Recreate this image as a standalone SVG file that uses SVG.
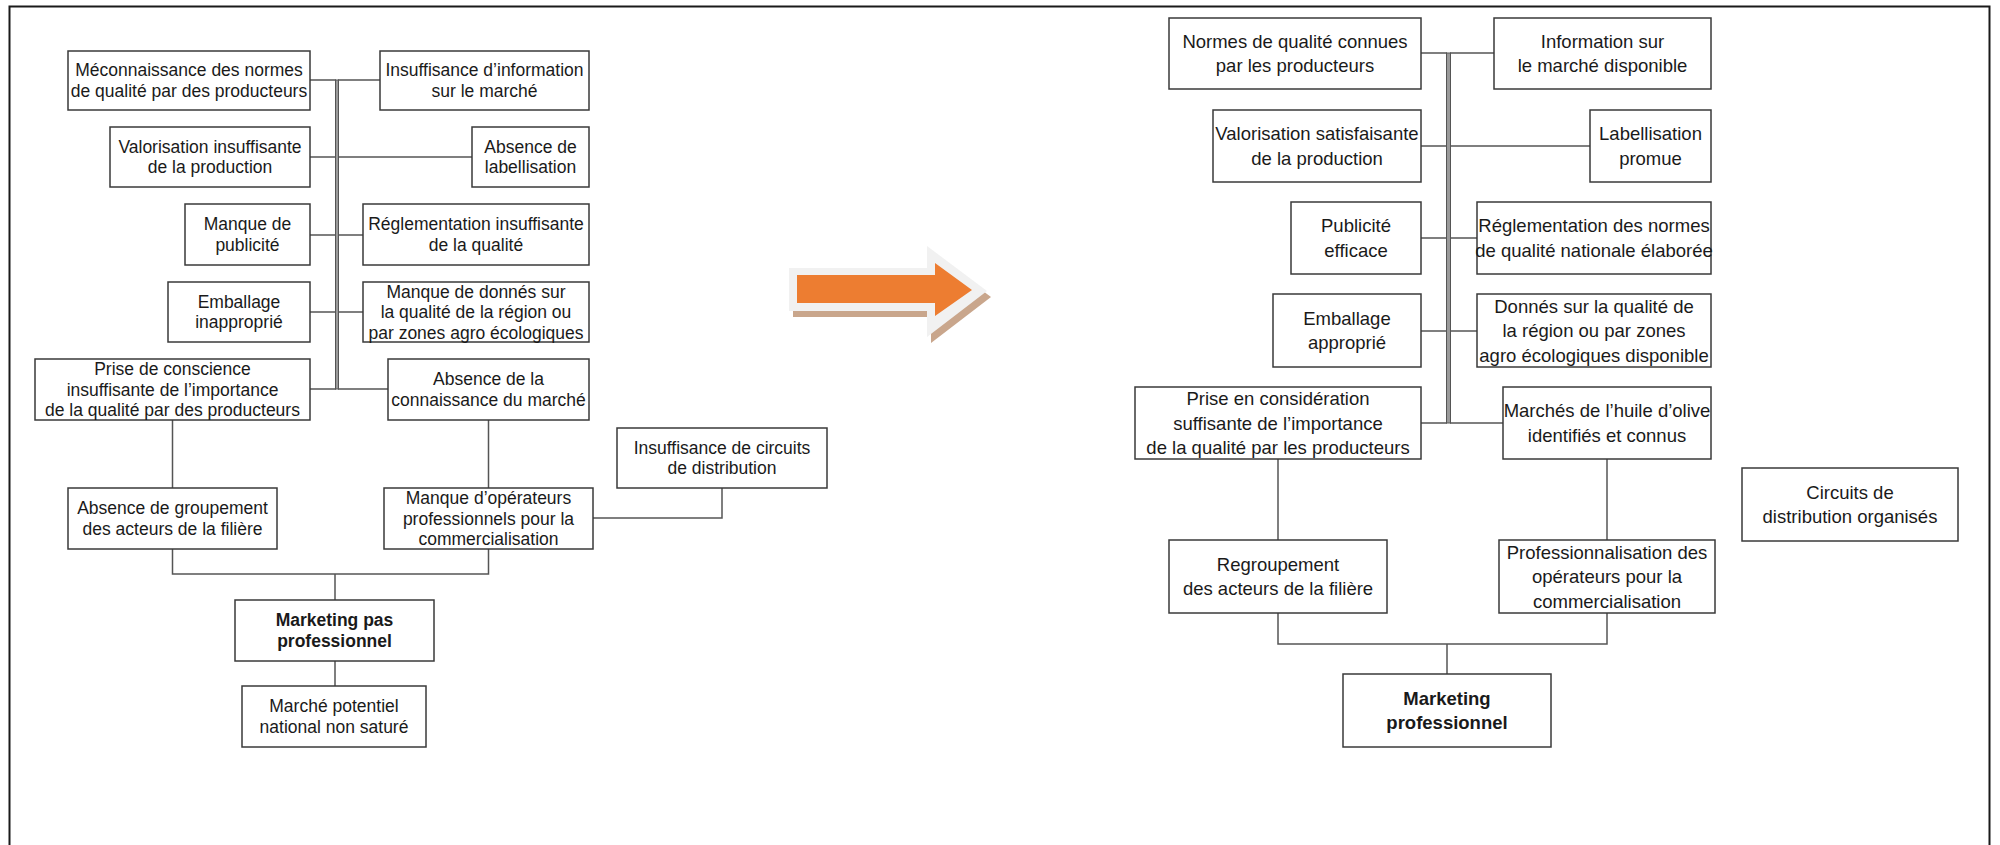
<svg xmlns="http://www.w3.org/2000/svg" width="2000" height="845" viewBox="0 0 2000 845">
  <style>
    .box { fill: #ffffff; stroke: #3a3a3a; stroke-width: 1.5; }
    .wire { fill: none; stroke: #555555; stroke-width: 1.5; }
    .spine { fill: #9a9a9a; stroke: #555555; stroke-width: 1; }
    .l { font-family: "Liberation Sans", Arial, sans-serif; font-size: 17.5px; fill: #1a1a1a; text-anchor: middle; }
    .r { font-family: "Liberation Sans", Arial, sans-serif; font-size: 18.5px; fill: #1a1a1a; text-anchor: middle; }
    .b { font-weight: bold; }
  </style>

  <rect x="0" y="0" width="2000" height="845" fill="#ffffff"/>
  <!-- page frame, open at the bottom -->
  <path d="M9.5 845 V6.5 H1989.5 V845" fill="none" stroke="#1a1a1a" stroke-width="2"/>

  <!-- connectors -->
  <g id="connectors">
    <!-- left tree -->
    <path class="wire" d="M310 80 H336 M310 157 H336 M310 235 H336 M310 312 H336 M310 389 H336"/>
    <path class="wire" d="M338 80 H380 M338 157 H472 M338 235 H363 M338 312 H363 M338 389 H388"/>
    <rect class="spine" x="335.5" y="80" width="3" height="309"/>
    <path class="wire" d="M172.5 420 V488 M488.5 420 V488"/>
    <path class="wire" d="M722 488 V518 H593"/>
    <path class="wire" d="M172.5 549 V574 H488.5 V549 M335 574 V600 M335 661 V686"/>
    <!-- right tree -->
    <path class="wire" d="M1421 53 H1447 M1421 146 H1447 M1421 238 H1447 M1421 331 H1447 M1421 423 H1447"/>
    <path class="wire" d="M1450 53 H1494 M1450 146 H1590 M1450 238 H1477 M1450 331 H1477 M1450 423 H1503"/>
    <rect class="spine" x="1446.5" y="53" width="4" height="370"/>
    <path class="wire" d="M1278 459 V540 M1607 459 V540"/>
    <path class="wire" d="M1278 613 V644 H1607 V613 M1447 644 V674"/>
  </g>

  <!-- transition arrow -->
  <g id="arrow">
    <polygon points="793,274 931,274 931,252 991,297 931,343 931,317 793,317" fill="#c9a68c"/>
    <polygon points="789,268 927,268 927,246 987,291 927,337 927,311 789,311" fill="#f1f1f1"/>
    <polygon points="797,275 935,275 935,263 972,290 935,316 935,303 797,303" fill="#ed7d31"/>
  </g>

  <!-- left tree nodes -->
  <g id="l-meconnaissance">
    <rect class="box" x="68" y="51" width="242" height="59"/>
    <text class="l" x="189" y="76.4">Méconnaissance des normes<tspan x="189" dy="20.5">de qualité par des producteurs</tspan></text>
  </g>
  <g id="l-information">
    <rect class="box" x="380" y="51" width="209" height="59"/>
    <text class="l" x="484.5" y="76.4">Insuffisance d’information<tspan x="484.5" dy="20.5">sur le marché</tspan></text>
  </g>
  <g id="l-valorisation">
    <rect class="box" x="110" y="127" width="200" height="60"/>
    <text class="l" x="210" y="152.9">Valorisation insuffisante<tspan x="210" dy="20.5">de la production</tspan></text>
  </g>
  <g id="l-labellisation">
    <rect class="box" x="472" y="127" width="117" height="60"/>
    <text class="l" x="530.5" y="152.9">Absence de<tspan x="530.5" dy="20.5">labellisation</tspan></text>
  </g>
  <g id="l-publicite">
    <rect class="box" x="185" y="204" width="125" height="61"/>
    <text class="l" x="247.5" y="230.4">Manque de<tspan x="247.5" dy="20.5">publicité</tspan></text>
  </g>
  <g id="l-reglementation">
    <rect class="box" x="363" y="204" width="226" height="61"/>
    <text class="l" x="476" y="230.4">Réglementation insuffisante<tspan x="476" dy="20.5">de la qualité</tspan></text>
  </g>
  <g id="l-emballage">
    <rect class="box" x="168" y="282" width="142" height="60"/>
    <text class="l" x="239" y="307.9">Emballage<tspan x="239" dy="20.5">inapproprié</tspan></text>
  </g>
  <g id="l-donnees">
    <rect class="box" x="363" y="282" width="226" height="60"/>
    <text class="l" x="476" y="297.6">Manque de donnés sur<tspan x="476" dy="20.5">la qualité de la région ou</tspan><tspan x="476" dy="20.5">par zones agro écologiques</tspan></text>
  </g>
  <g id="l-prise">
    <rect class="box" x="35" y="359" width="275" height="61"/>
    <text class="l" x="172.5" y="375.1">Prise de conscience<tspan x="172.5" dy="20.5">insuffisante de l’importance</tspan><tspan x="172.5" dy="20.5">de la qualité par des producteurs</tspan></text>
  </g>
  <g id="l-connaissance">
    <rect class="box" x="388" y="359" width="201" height="61"/>
    <text class="l" x="488.5" y="385.4">Absence de la<tspan x="488.5" dy="20.5">connaissance du marché</tspan></text>
  </g>
  <g id="l-circuits">
    <rect class="box" x="617" y="428" width="210" height="60"/>
    <text class="l" x="722" y="453.9">Insuffisance de circuits<tspan x="722" dy="20.5">de distribution</tspan></text>
  </g>
  <g id="l-groupement">
    <rect class="box" x="68" y="488" width="209" height="61"/>
    <text class="l" x="172.5" y="514.4">Absence de groupement<tspan x="172.5" dy="20.5">des acteurs de la filière</tspan></text>
  </g>
  <g id="l-operateurs">
    <rect class="box" x="384" y="488" width="209" height="61"/>
    <text class="l" x="488.5" y="504.1">Manque d’opérateurs<tspan x="488.5" dy="20.5">professionnels pour la</tspan><tspan x="488.5" dy="20.5">commercialisation</tspan></text>
  </g>
  <g id="l-marketing">
    <rect class="box" x="235" y="600" width="199" height="61"/>
    <text class="l b" x="334.5" y="626.4">Marketing pas<tspan x="334.5" dy="20.5">professionnel</tspan></text>
  </g>
  <g id="l-marche">
    <rect class="box" x="242" y="686" width="184" height="61"/>
    <text class="l" x="334" y="712.4">Marché potentiel<tspan x="334" dy="20.5">national non saturé</tspan></text>
  </g>

  <!-- right tree nodes -->
  <g id="r-normes">
    <rect class="box" x="1169" y="18" width="252" height="71"/>
    <text class="r" x="1295" y="47.8">Normes de qualité connues<tspan x="1295" dy="24.5">par les producteurs</tspan></text>
  </g>
  <g id="r-information">
    <rect class="box" x="1494" y="18" width="217" height="71"/>
    <text class="r" x="1602.5" y="47.8">Information sur<tspan x="1602.5" dy="24.5">le marché disponible</tspan></text>
  </g>
  <g id="r-valorisation">
    <rect class="box" x="1213" y="110" width="208" height="72"/>
    <text class="r" x="1317" y="140.3">Valorisation satisfaisante<tspan x="1317" dy="24.5">de la production</tspan></text>
  </g>
  <g id="r-labellisation">
    <rect class="box" x="1590" y="110" width="121" height="72"/>
    <text class="r" x="1650.5" y="140.3">Labellisation<tspan x="1650.5" dy="24.5">promue</tspan></text>
  </g>
  <g id="r-publicite">
    <rect class="box" x="1291" y="202" width="130" height="72"/>
    <text class="r" x="1356" y="232.3">Publicité<tspan x="1356" dy="24.5">efficace</tspan></text>
  </g>
  <g id="r-reglementation">
    <rect class="box" x="1477" y="202" width="234" height="72"/>
    <text class="r" x="1594" y="232.3">Réglementation des normes<tspan x="1594" dy="24.5">de qualité nationale élaborée</tspan></text>
  </g>
  <g id="r-emballage">
    <rect class="box" x="1273" y="294" width="148" height="73"/>
    <text class="r" x="1347" y="324.8">Emballage<tspan x="1347" dy="24.5">approprié</tspan></text>
  </g>
  <g id="r-donnees">
    <rect class="box" x="1477" y="294" width="234" height="73"/>
    <text class="r" x="1594" y="312.5">Donnés sur la qualité de<tspan x="1594" dy="24.5">la région ou par zones</tspan><tspan x="1594" dy="24.5">agro écologiques disponible</tspan></text>
  </g>
  <g id="r-prise">
    <rect class="box" x="1135" y="387" width="286" height="72"/>
    <text class="r" x="1278" y="405">Prise en considération<tspan x="1278" dy="24.5">suffisante de l’importance</tspan><tspan x="1278" dy="24.5">de la qualité par les producteurs</tspan></text>
  </g>
  <g id="r-marches">
    <rect class="box" x="1503" y="387" width="208" height="72"/>
    <text class="r" x="1607" y="417.3">Marchés de l’huile d’olive<tspan x="1607" dy="24.5">identifiés et connus</tspan></text>
  </g>
  <g id="r-circuits">
    <rect class="box" x="1742" y="468" width="216" height="73"/>
    <text class="r" x="1850" y="498.8">Circuits de<tspan x="1850" dy="24.5">distribution organisés</tspan></text>
  </g>
  <g id="r-regroupement">
    <rect class="box" x="1169" y="540" width="218" height="73"/>
    <text class="r" x="1278" y="570.8">Regroupement<tspan x="1278" dy="24.5">des acteurs de la filière</tspan></text>
  </g>
  <g id="r-professionnalisation">
    <rect class="box" x="1499" y="540" width="216" height="73"/>
    <text class="r" x="1607" y="558.5">Professionnalisation des<tspan x="1607" dy="24.5">opérateurs pour la</tspan><tspan x="1607" dy="24.5">commercialisation</tspan></text>
  </g>
  <g id="r-marketing">
    <rect class="box" x="1343" y="674" width="208" height="73"/>
    <text class="r b" x="1447" y="704.8">Marketing<tspan x="1447" dy="24.5">professionnel</tspan></text>
  </g>
</svg>
